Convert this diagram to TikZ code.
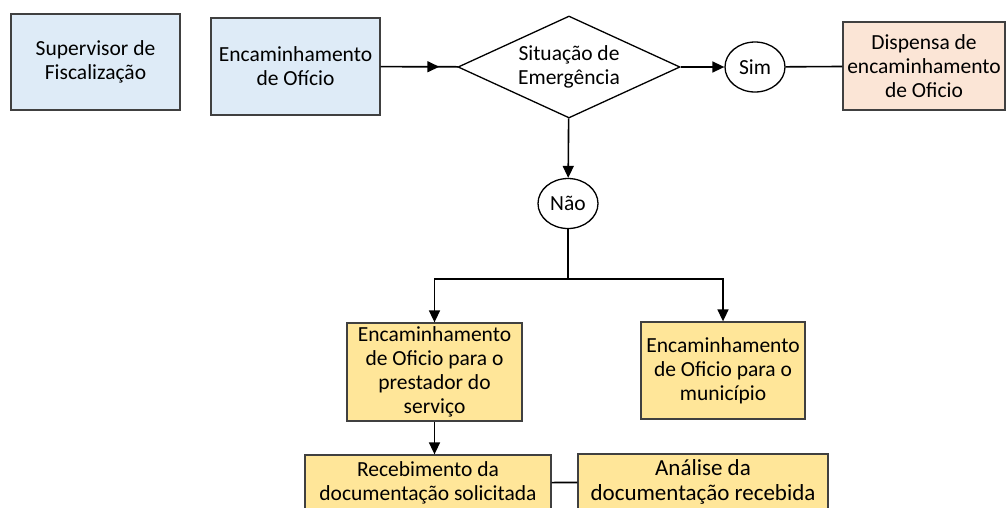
\documentclass[tikz,border=0pt]{standalone}
\usepackage{fontspec}
\setmainfont{Carlito}
\usetikzlibrary{positioning,shapes.geometric,arrows.meta,decorations.markings}

\definecolor{azulclaro}{HTML}{DEEBF7}
\definecolor{pessego}{HTML}{FBE5D6}
\definecolor{amarelo}{HTML}{FFE699}
\definecolor{borda}{HTML}{404040}

\begin{document}
\begin{tikzpicture}[x=1pt, y=-1pt,
  every node/.style={draw=borda, line width=1.3pt, align=center, inner sep=0pt,
    font=\fontsize{21.5}{24}\selectfont},
  seta/.style={line width=1.6pt, -{Triangle[length=12pt,width=11pt]}},
  linha/.style={line width=1.6pt},
  setameio/.style={line width=1.6pt, postaction={decorate},
    decoration={markings, mark=at position 0.76 with {\arrow{Triangle[length=12pt,width=11pt]}}}}]
\tikzstyle{caixa}=[rectangle]
\tikzstyle{bola}=[ellipse, draw=black, fill=white, minimum width=60pt, minimum height=50pt]
\useasboundingbox (0,0) rectangle (1007,507);

% linha de cima
\node [caixa, fill=azulclaro, minimum width=169pt, minimum height=96pt] (sup) at (95.5,62) {Supervisor de\\Fiscalização};
\node [caixa, fill=azulclaro, minimum width=169pt, minimum height=97pt] (enc) at (295.5,66.5) {Encaminhamento\\de Ofício};
\node [diamond, draw=black, fill=white, aspect=2.2, minimum width=222pt, minimum height=102pt] (sit) at (569,67) {Situação de\\Emergência};
\node [bola] (sim) at (755,67) {Sim};
\node [caixa, fill=pessego, minimum width=162pt, minimum height=88pt] (disp) at (924,66) {Dispensa de\\encaminhamento\\de Oficio};

\draw [setameio] (enc) -- (sit);
\draw [seta] (sit) -- (sim);
\draw [linha] (sim) -- (disp);

% ramo do nao
\node [bola] (nao) at (568,203.5) {Não};
\node [caixa, fill=amarelo, minimum width=175pt, minimum height=98pt] (prest) at (434.5,372) {Encaminhamento\\de Oficio para o\\prestador do\\serviço};
\node [caixa, fill=amarelo, minimum width=164pt, minimum height=97pt] (munic) at (723,370.5) {Encaminhamento\\de Oficio para o\\município};
\node [caixa, fill=amarelo, minimum width=246pt, minimum height=56pt] (receb) at (428,483) {Recebimento da\\documentação solicitada};
\node [caixa, fill=amarelo, minimum width=250pt, minimum height=56pt, font=\fontsize{23}{25}\selectfont] (anal) at (703,482) {Análise da\\documentação recebida};

\draw [seta] (sit) -- (nao);
\draw [linha] (nao.south) -- ++(0,50) coordinate (jun);
\draw [seta] (jun) -| (prest);
\draw [seta] (jun) -| (munic);
\draw [seta] (prest) -- (prest |- receb.north);
\draw [linha] (receb) -- (anal);
\end{tikzpicture}
\end{document}
